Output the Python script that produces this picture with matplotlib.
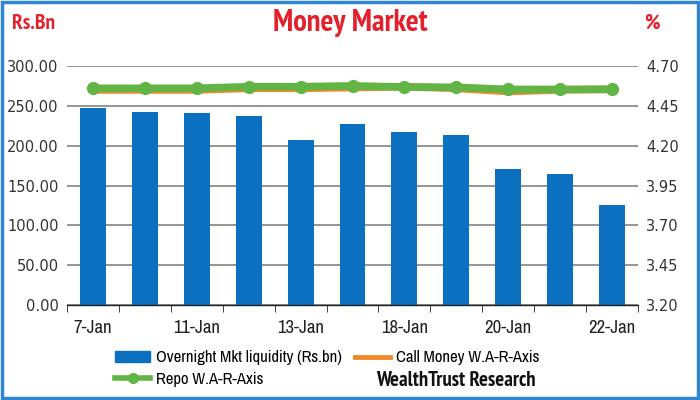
import numpy as np
import matplotlib
matplotlib.use("Agg")
import matplotlib.pyplot as plt
from matplotlib import font_manager
from matplotlib.patches import Rectangle
from matplotlib.lines import Line2D
from matplotlib.ticker import FormatStrFormatter, MultipleLocator, LinearLocator

# data
dates = ["7-Jan", "8-Jan", "11-Jan", "12-Jan", "13-Jan", "14-Jan",
         "18-Jan", "19-Jan", "20-Jan", "21-Jan", "22-Jan"]
liquidity = [246.9, 242.6, 240.6, 237.2, 207.5, 227.2, 217.5, 213.8, 170.3, 164.8, 125.1]
call_money = [4.55, 4.55, 4.55, 4.56, 4.56, 4.565, 4.57, 4.56, 4.54, 4.55, 4.555]
repo = [4.56, 4.56, 4.56, 4.57, 4.57, 4.575, 4.568, 4.566, 4.553, 4.553, 4.553]


def weight_num(w):
    if isinstance(w, (int, float)):
        return w
    return font_manager.weight_dict.get(w, 400)


# narrow faces: an upright bold cut for the headings, an upright regular for the rest
fonts = font_manager.fontManager.ttflist
narrow_fonts = [f for f in fonts if ("Narrow" in f.name or "Condensed" in f.name)
                and f.style == "normal"]
narrow_fonts.sort(key=lambda f: (0 if "Narrow" in f.name else 1, f.name))
bold_narrow = [f for f in narrow_fonts if weight_num(f.weight) >= 600]
reg_narrow = [f for f in narrow_fonts if weight_num(f.weight) < 600]
body = reg_narrow[0].fname if reg_narrow else None
head = bold_narrow[0].fname if bold_narrow else None


def fp(size, bold=False):
    if bold and head:
        return font_manager.FontProperties(fname=head, size=size)
    if body:
        return font_manager.FontProperties(fname=body, size=size,
                                           weight="bold" if bold else "normal")
    return font_manager.FontProperties(family="DejaVu Sans", size=size * 0.85,
                                       weight="bold" if bold else "normal")


red = "#e3202b"
blue = "#0a70bf"
orange = "#f0892a"
green = "#62b544"

fig = plt.figure(figsize=(7, 4), dpi=100)
ax = fig.add_axes([67 / 700, 95 / 400, 571 / 700, 239 / 400])
x = np.arange(len(dates))

ax.bar(x, liquidity, width=0.5, color=blue, zorder=2)
ax.set_xlim(-0.5, len(dates) - 0.5)
ax.set_ylim(0, 300)
ax.yaxis.set_major_locator(MultipleLocator(50))
ax.yaxis.set_major_formatter(FormatStrFormatter("%.2f"))
ax.grid(axis="y", color="#8c8c8c", linewidth=1.3, zorder=0)
for s in ["top", "right", "left"]:
    ax.spines[s].set_visible(False)
ax.spines["bottom"].set_color("#222222")
ax.spines["bottom"].set_linewidth(1.0)
ax.spines["bottom"].set_zorder(3)
ax.tick_params(axis="y", length=0, labelsize=10.5, labelcolor="#333333", pad=6)

ax.set_xticks(x[::2])
ax.set_xticklabels(dates[::2], fontproperties=fp(13.5), color="#222222")
ax.set_xticks(np.arange(-0.5, len(dates)), minor=True)
ax.tick_params(axis="x", which="major", length=0, pad=11)
ax.tick_params(axis="x", which="minor", length=5, direction="out", color="#222222")

ax2 = ax.twinx()
ax2.set_ylim(3.20, 4.70)
ax2.yaxis.set_major_locator(LinearLocator(7))
ax2.yaxis.set_major_formatter(FormatStrFormatter("%.2f"))
for s in ax2.spines.values():
    s.set_visible(False)
ax2.tick_params(axis="y", length=0, labelsize=10.5, labelcolor="#333333", pad=6)
ax2.plot(x, call_money, color=orange, linewidth=5.5, solid_capstyle="butt", zorder=3)
ax2.plot(x, repo, color=green, linewidth=5.5, marker="o", markersize=8.5,
         solid_capstyle="butt", zorder=4)

# titles
fig.text(0.5, 0.942, "Money Market", ha="center", va="center", color=red,
         fontproperties=fp(22, bold=True))
fig.text(12 / 700, 0.942, "Rs.Bn", ha="left", va="center", color=red,
         fontproperties=fp(15.5, bold=True))
fig.text(652 / 700, 0.942, "%", ha="center", va="center", color=red,
         fontproperties=fp(15.5, bold=True))

# legend
handles = [Rectangle((0, 0), 1, 1, color=blue),
           Line2D([], [], color=green, linewidth=4, marker="o", markersize=7),
           Line2D([], [], color=orange, linewidth=3.5)]
labels = ["Overnight Mkt liquidity (Rs.bn)", "Repo W.A-R-Axis", "Call Money W.A-R-Axis"]
fig.legend(handles, labels, ncol=2, loc="upper left", bbox_to_anchor=(107 / 700, 1 - 342 / 400),
           frameon=False, prop=fp(12), handlelength=2.1, handletextpad=0.35,
           columnspacing=0.8, labelspacing=0.4, borderpad=0)
fig.text(376 / 700, 1 - 380 / 400, "WealthTrust Research", ha="left", va="center",
         fontproperties=fp(15, bold=True), color="#111111")

# blue frame
fig.patches.append(Rectangle((0.003, 0.004), 0.994, 0.992, transform=fig.transFigure,
                             fill=False, edgecolor="#2f86cf", linewidth=2.5))

fig.savefig("out.png", dpi=100)
